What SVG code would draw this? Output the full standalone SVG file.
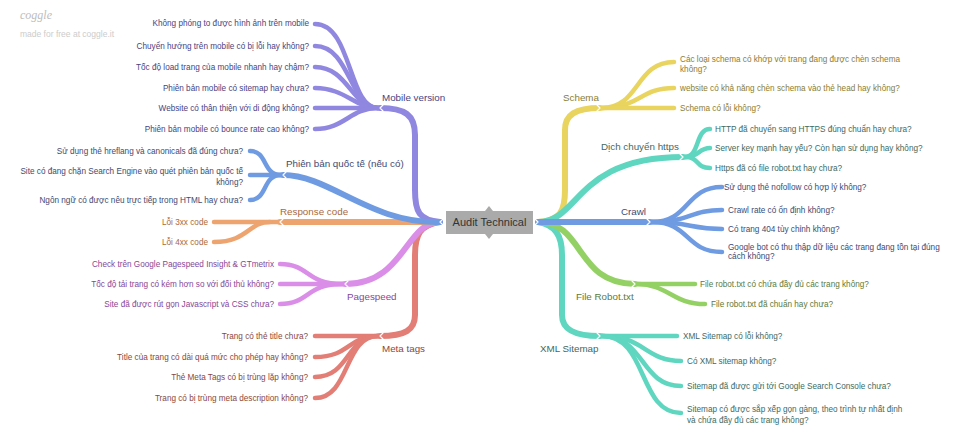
<svg xmlns="http://www.w3.org/2000/svg" width="977" height="447" viewBox="0 0 977 447">
<style>
.b{fill:none;stroke-linecap:round;stroke-linejoin:round}
.m{stroke-width:6}
.l{stroke-width:4.5}
.t{font-family:"Liberation Sans",Arial,sans-serif;font-size:8.2px}
.lb{font-family:"Liberation Sans",Arial,sans-serif;font-size:9.8px}
.e{text-anchor:end}
.ch{fill:none;stroke:#fff;stroke-width:1.2;stroke-linecap:round;stroke-linejoin:round}
.pu{stroke:#8f87e0}.bl{stroke:#6f9be2}.or{stroke:#eda46f}.pk{stroke:#da8ee8}.rd{stroke:#e27e75}
.ye{stroke:#e8d45e}.te{stroke:#5fd6bf}.gr{stroke:#94d165}
.tpu{fill:#48447f}.tbl{fill:#3d4b73}.tor{fill:#a9693a}.tpk{fill:#874797}.trd{fill:#884843}
.tye{fill:#8a7d33}.tte{fill:#3d6a62}.tgr{fill:#5b7a3b}
</style>
<g id="header">
<text x="20" y="19" font-family="'Liberation Serif',serif" font-style="italic" font-size="12" fill="#bdbdbd">coggle</text>
<text x="20" y="37" font-family="'Liberation Sans',Arial,sans-serif" font-size="8.5" fill="#cccccc">made for free at coggle.it</text>
</g>
<g id="connectors">
<!-- left main -->
<path class="b m rd" d="M440,222 C420,225 415,235 415,255 L415,315 C415,330 405,336 380,336"/>
<path class="b m pk" d="M440,222 C405,222 405,284 345,284"/>
<path class="b m or" d="M440,222 L280,222"/>
<path class="b m pu" d="M440,222 C419,220 415,212 415,190 L415,135 C415,115 405,108 380,108"/>
<path class="b m bl" d="M440,222 C370,224 330,175 283,175"/>
<!-- right main -->
<path class="b m te" d="M538,222 C555,225 562,235 562,255 L562,315 C562,330 575,336 600,336"/>
<path class="b m gr" d="M538,222 C585,222 575,284 635,284"/>
<path class="b m ye" d="M538,222 C560,220 565,212 565,190 L565,130 C565,115 575,108 600,108"/>
<path class="b m te" d="M538,222 C580,222 575,157 683,157"/>
<path class="b m bl" d="M538,222 L650,222"/>
<!-- mobile leaves -->
<path class="b l pu" d="M378,108 C348,108 352,24 315,24"/>
<path class="b l pu" d="M378,108 C350,108 350,46 315,46"/>
<path class="b l pu" d="M378,108 C352,108 348,67 315,67"/>
<path class="b l pu" d="M378,108 C355,108 345,88 315,88"/>
<path class="b l pu" d="M378,108 L315,108"/>
<path class="b l pu" d="M378,108 C350,108 345,129 315,129"/>
<!-- quoc te leaves -->
<path class="b l bl" d="M281,175 C262,175 268,151 250,151"/>
<path class="b l bl" d="M281,175 L250,175"/>
<path class="b l bl" d="M281,175 C262,175 268,200 250,200"/>
<!-- response leaves -->
<path class="b l or" d="M278,222 L214,222"/>
<path class="b l or" d="M270,222 C248,222 248,242 214,242"/>
<!-- pagespeed leaves -->
<path class="b l pk" d="M343,284 C305,284 310,264 280,264"/>
<path class="b l pk" d="M343,284 L280,284"/>
<path class="b l pk" d="M343,284 C305,284 310,304 280,304"/>
<!-- meta leaves -->
<path class="b l rd" d="M378,336 L315,336"/>
<path class="b l rd" d="M378,336 C348,336 350,357 315,357"/>
<path class="b l rd" d="M378,336 C346,336 350,377 315,377"/>
<path class="b l rd" d="M378,336 C344,336 350,398 315,398"/>
<!-- schema leaves -->
<path class="b l ye" d="M602,108 C640,108 635,62 674,62"/>
<path class="b l ye" d="M602,108 C640,108 640,88 674,88"/>
<path class="b l ye" d="M602,108 L674,108"/>
<!-- https leaves -->
<path class="b l te" d="M685,157 C700,157 695,129 710,129"/>
<path class="b l te" d="M685,157 C700,157 698,148 710,148"/>
<path class="b l te" d="M685,157 C700,157 695,168 710,168"/>
<!-- crawl leaves -->
<path class="b l bl" d="M652,222 C690,222 685,187 722,187"/>
<path class="b l bl" d="M652,222 C690,222 690,210 722,210"/>
<path class="b l bl" d="M652,222 C690,222 690,229 722,229"/>
<path class="b l bl" d="M652,222 C690,222 685,252 722,252"/>
<!-- robot leaves -->
<path class="b l gr" d="M637,284 L695,284"/>
<path class="b l gr" d="M637,284 C668,284 672,304 705,304"/>
<!-- xml leaves -->
<path class="b l te" d="M602,336 L677,336"/>
<path class="b l te" d="M602,336 C645,336 645,361 681,361"/>
<path class="b l te" d="M602,336 C645,336 640,386 681,386"/>
<path class="b l te" d="M602,336 C648,336 638,413 681,413"/>
<!-- chevrons -->
<polyline class="ch" points="443,219 440,222 443,225"/>
<polyline class="ch" points="383,105 380,108 383,111"/>
<polyline class="ch" points="286,172 283,175 286,178"/>
<polyline class="ch" points="283,219 280,222 283,225"/>
<polyline class="ch" points="348,281 345,284 348,287"/>
<polyline class="ch" points="383,333 380,336 383,339"/>
<polyline class="ch" points="535,219 538,222 535,225"/>
<polyline class="ch" points="597,105 600,108 597,111"/>
<polyline class="ch" points="680,154 683,157 680,160"/>
<polyline class="ch" points="647,219 650,222 647,225"/>
<polyline class="ch" points="632,281 635,284 632,287"/>
<polyline class="ch" points="597,333 600,336 597,339"/>
</g>
<g id="center">
<rect x="446" y="211" width="87" height="23" fill="#aaaaaa"/>
<polygon points="485,211 489,206 493,211" fill="#aaaaaa"/>
<polygon points="485,234 489,239 493,234" fill="#aaaaaa"/>
<text x="489.5" y="226" text-anchor="middle" font-family="'Liberation Sans',Arial,sans-serif" font-size="11" fill="#333">Audit Technical</text>
</g>
<g id="mobile">
<text class="lb tpu" x="382" y="101">Mobile version</text>
<text class="t tpu e" x="309" y="26">Không phóng to được hình ảnh trên mobile</text>
<text class="t tpu e" x="309" y="49">Chuyển hướng trên mobile có bị lỗi hay không?</text>
<text class="t tpu e" x="309" y="70">Tốc độ load trang của mobile nhanh hay chậm?</text>
<text class="t tpu e" x="309" y="91">Phiên bản mobile có sitemap hay chưa?</text>
<text class="t tpu e" x="309" y="111">Website có thân thiện với di động không?</text>
<text class="t tpu e" x="309" y="132">Phiên bản mobile có bounce rate cao không?</text>
</g>
<g id="quocte">
<text class="lb tbl" x="286" y="167">Phiên bản quốc tế (nếu có)</text>
<text class="t tbl e" x="243" y="154">Sử dụng thẻ hreflang và canonicals đã đúng chưa?</text>
<text class="t tbl e" x="243" y="174">Site có đang chặn Search Engine vào quét phiên bản quốc tế</text>
<text class="t tbl e" x="243" y="185">không?</text>
<text class="t tbl e" x="243" y="203">Ngôn ngữ có được nêu trực tiếp trong HTML hay chưa?</text>
</g>
<g id="response">
<text class="lb tor" x="280" y="215">Response code</text>
<text class="t tor e" x="208" y="225">Lỗi 3xx code</text>
<text class="t tor e" x="208" y="245">Lỗi 4xx code</text>
</g>
<g id="pagespeed">
<text class="lb tpk" x="347" y="300">Pagespeed</text>
<text class="t tpk e" x="274" y="267">Check trên Google Pagespeed Insight &amp; GTmetrix</text>
<text class="t tpk e" x="274" y="287">Tốc độ tải trang có kém hơn so với đối thủ không?</text>
<text class="t tpk e" x="274" y="307">Site đã được rút gọn Javascript và CSS chưa?</text>
</g>
<g id="metatags">
<text class="lb trd" x="382" y="352">Meta tags</text>
<text class="t trd e" x="308" y="339">Trang có thẻ title chưa?</text>
<text class="t trd e" x="308" y="360">Title của trang có dài quá mức cho phép hay không?</text>
<text class="t trd e" x="308" y="380">Thẻ Meta Tags có bị trùng lặp không?</text>
<text class="t trd e" x="308" y="401">Trang có bị trùng meta description không?</text>
</g>
<g id="schema">
<text class="lb tye" x="563" y="101">Schema</text>
<text class="t tye" x="680" y="62">Các loại schema có khớp với trang đang được chèn schema</text>
<text class="t tye" x="680" y="72">không?</text>
<text class="t tye" x="680" y="91">website có khả năng chèn schema vào thẻ head hay không?</text>
<text class="t tye" x="680" y="111">Schema có lỗi không?</text>
</g>
<g id="https">
<text class="lb tte" x="601" y="150">Dịch chuyển https</text>
<text class="t tte" x="715" y="132">HTTP đã chuyển sang HTTPS đúng chuẩn hay chưa?</text>
<text class="t tte" x="715" y="151">Server key mạnh hay yếu? Còn hạn sử dụng hay không?</text>
<text class="t tte" x="715" y="171">Https đã có file robot.txt hay chưa?</text>
</g>
<g id="crawl">
<text class="lb tbl" x="621" y="215">Crawl</text>
<text class="t tbl" x="724" y="190">Sử dụng thẻ nofollow có hợp lý không?</text>
<text class="t tbl" x="728" y="213">Crawl rate có ổn định không?</text>
<text class="t tbl" x="728" y="232">Có trang 404 tùy chỉnh không?</text>
<text class="t tbl" x="728" y="250">Google bot có thu thập dữ liệu các trang đang tồn tại đúng</text>
<text class="t tbl" x="728" y="259">cách không?</text>
</g>
<g id="robot">
<text class="lb tgr" x="576" y="300">File Robot.txt</text>
<text class="t tgr" x="700" y="287">File robot.txt có chứa đầy đủ các trang không?</text>
<text class="t tgr" x="711" y="307">File robot.txt đã chuẩn hay chưa?</text>
</g>
<g id="xmlsitemap">
<text class="lb tte" x="540" y="352">XML Sitemap</text>
<text class="t tte" x="683" y="339">XML Sitemap có lỗi không?</text>
<text class="t tte" x="687" y="364">Có XML sitemap không?</text>
<text class="t tte" x="687" y="389">Sitemap đã được gửi tới Google Search Console chưa?</text>
<text class="t tte" x="687" y="412">Sitemap có được sắp xếp gọn gàng, theo trình tự nhất định</text>
<text class="t tte" x="687" y="423">và chứa đầy đủ các trang không?</text>
</g>
</svg>
